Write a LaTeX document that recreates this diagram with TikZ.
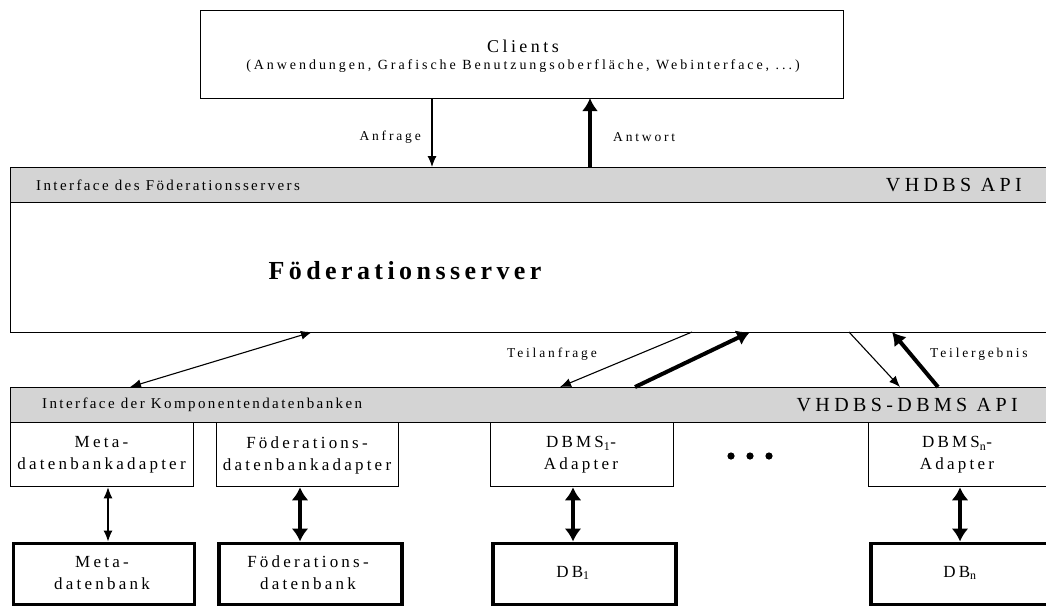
\documentclass[tikz,border=0pt]{standalone}
\usepackage{fontspec}
\setmainfont{Liberation Serif}
\newfontfamily\spaced[LetterSpace=19]{Liberation Serif}
\newfontfamily\spacedlbl[LetterSpace=21]{Liberation Serif}
\newfontfamily\spacedband[LetterSpace=16]{Liberation Serif}
\newfontfamily\spacedapi[LetterSpace=22]{Liberation Serif}
\newfontfamily\spacedbold[LetterSpace=17]{Liberation Serif Bold}
\usetikzlibrary{arrows.meta,calc}

\tikzset{
  frame/.style={draw, line width=1.3pt, anchor=north west, inner sep=0pt},
  dbframe/.style={draw, line width=3.6pt, anchor=north west, inner sep=0pt},
  band/.style={draw, line width=1.3pt, fill=black!17, anchor=north west, inner sep=0pt},
  lbl/.style={inner sep=0pt, font=\spacedlbl\fontsize{13.5}{15}\selectfont},
  bandlbl/.style={inner sep=0pt, font=\spacedband\fontsize{15}{17}\selectfont},
  apilbl/.style={inner sep=0pt, font=\spacedapi\fontsize{20}{22}\selectfont},
  boxlbl/.style={inner sep=0pt, align=center, font=\spaced\fontsize{17}{22}\selectfont},
  thin/.style={line width=1.1pt, -{Latex[length=11pt,width=9pt]}},
  thinboth/.style={line width=1.1pt, {Latex[length=11pt,width=9pt]}-{Latex[length=11pt,width=9pt]}},
  thick/.style={line width=4pt, -{Latex[length=13pt,width=16pt]}},
  thickboth/.style={line width=4pt, {Latex[length=13pt,width=17pt]}-{Latex[length=13pt,width=17pt]}}
}

\begin{document}
\begin{tikzpicture}[x=1pt,y=-1pt]
\useasboundingbox (0,0) rectangle (1046,606);

% clients
\node[frame, minimum width=643pt, minimum height=88pt] (clients) at (200,10) {};
\node[inner sep=0pt, align=center] (clientstxt) at (523,56)
  {{\spaced\fontsize{18}{20}\selectfont Clients}\\[5pt]
   {\spacedlbl\fontsize{14}{16}\selectfont (Anwendungen, Grafische Benutzungsoberfläche, Webinterface, ...)}};

% federation server with its interface band
\node[frame, minimum width=1050pt, minimum height=130pt] (server) at (10,202) {};
\node[band, minimum width=1050pt, minimum height=35pt] (fedapi) at (10,167) {};
\node[bandlbl, anchor=west] (fedapil) at (36,185) {Interface des Föderationsservers};
\node[apilbl, anchor=east] (fedapir) at (1022,185) {VHDBS API};
\node[inner sep=0pt, font=\spacedbold\fontsize{26}{28}\selectfont] (servertxt) at (405,271) {Föderationsserver};

% component interface band
\node[band, minimum width=1050pt, minimum height=35pt] (compapi) at (10,387) {};
\node[bandlbl, anchor=west] (compapil) at (42,405) {Interface der Komponentendatenbanken};
\node[apilbl, anchor=east] (compapir) at (1018,405) {VHDBS-DBMS API};

% adapters
\node[frame, minimum width=183pt, minimum height=64pt] (metaad) at (10,422) {};
\node[frame, minimum width=182pt, minimum height=64pt] (fedad) at (216,422) {};
\node[frame, minimum width=183pt, minimum height=64pt] (dbmsad1) at (490,422) {};
\node[frame, minimum width=190pt, minimum height=64pt] (dbmsadn) at (868,422) {};
\node[boxlbl] (metaadt) at (101.5,455) {Meta-\\datenbankadapter};
\node[boxlbl] (fedadt) at (307,455) {Föderations-\\datenbankadapter};
\node[boxlbl] (dbmsad1t) at (581,455) {DBMS\textsubscript{1}-\\Adapter};
\node[boxlbl] (dbmsadnt) at (957,455) {DBMS\textsubscript{n}-\\Adapter};

% ellipsis between adapters
\foreach \i/\xx in {1/731,2/750,3/769}
  \fill (\xx,456) circle (3.6pt) coordinate (dot\i);

% databases
\node[dbframe, minimum width=181pt, minimum height=61pt] (metadb) at (11.5,541.5) {};
\node[dbframe, minimum width=183pt, minimum height=61pt] (feddb) at (217,541.5) {};
\node[dbframe, minimum width=183pt, minimum height=61pt] (db1) at (491,541.5) {};
\node[dbframe, minimum width=190pt, minimum height=61pt] (dbn) at (869,541.5) {};
\node[boxlbl] (metadbt) at (102,573) {Meta-\\datenbank};
\node[boxlbl] (feddbt) at (308,573) {Föderations-\\datenbank};
\node[boxlbl] (db1t) at (573,573) {DB\textsubscript{1}};
\node[boxlbl] (dbnt) at (960,573) {DB\textsubscript{n}};

% request / answer between clients and server
\coordinate (anfTop) at (432,98);
\coordinate (anfBot) at (432,167);
\coordinate (antBot) at (590,167);
\coordinate (antTop) at (590,98);
\draw[thin] (anfTop) -- (anfBot);
\draw[thick] (antBot) -- (antTop);
\node[lbl, anchor=east] (anfl) at (421,137) {Anfrage};
\node[lbl, anchor=west] (antl) at (613,137) {Antwort};

% server <-> component interface
\coordinate (metaLow) at (130,387);
\coordinate (metaHigh) at (312,332);
\draw[thinboth] (metaLow) -- (metaHigh);
\coordinate (t1High) at (692,332);
\coordinate (t1Low) at (560,387);
\draw[thin] (t1High) -- (t1Low);
\coordinate (r1Low) at (635,387);
\coordinate (r1High) at (750,332);
\draw[thick] (r1Low) -- (r1High);
\coordinate (tnHigh) at (849,332);
\coordinate (tnLow) at (900,387);
\draw[thin] (tnHigh) -- (tnLow);
\coordinate (rnLow) at (938,387);
\coordinate (rnHigh) at (892,332);
\draw[thick] (rnLow) -- (rnHigh);
\node[lbl, anchor=east] (teilanf) at (597,354) {Teilanfrage};
\node[lbl, anchor=west] (teilerg) at (930,354) {Teilergebnis};

% adapter <-> database
\draw[thinboth] (metaad.south -| 108,0) -- (metadb.north -| 108,0);
\draw[thickboth] (fedad.south -| 300,0) -- (feddb.north -| 300,0);
\draw[thickboth] (dbmsad1.south -| 573,0) -- (db1.north -| 573,0);
\draw[thickboth] (dbmsadn.south -| 960,0) -- (dbn.north -| 960,0);
\end{tikzpicture}
\end{document}
